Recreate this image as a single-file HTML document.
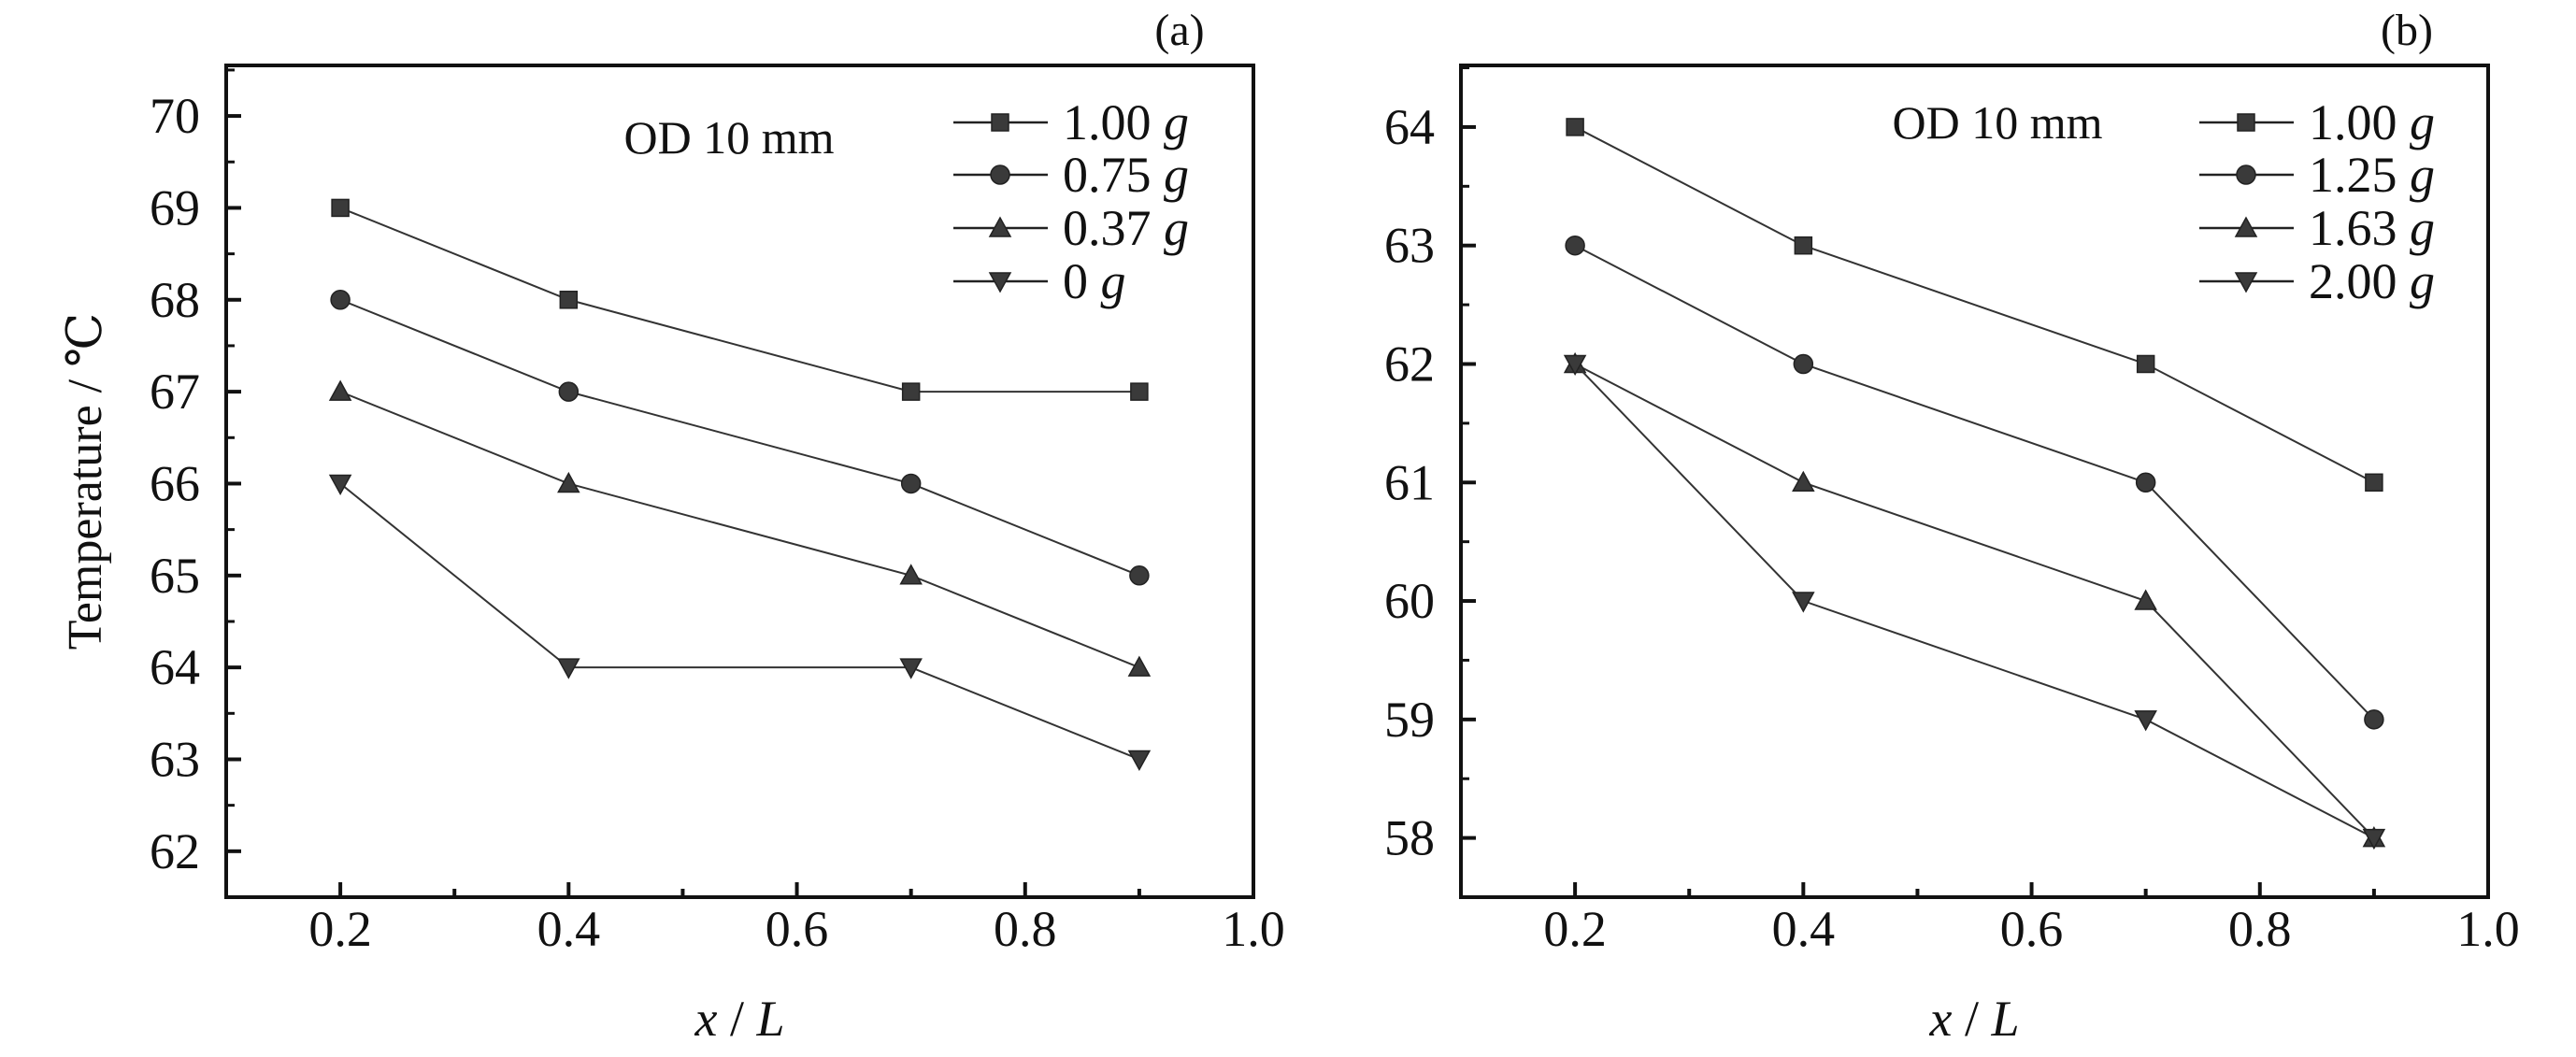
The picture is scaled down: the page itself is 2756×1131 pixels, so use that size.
<!DOCTYPE html>
<html><head><meta charset="utf-8"><style>
html,body{margin:0;padding:0;background:#fff;}
svg, svg text{font-family:"Liberation Serif","Times New Roman","Nimbus Roman","DejaVu Serif",serif !important;}
</style></head><body>
<svg id="chart" width="2756" height="1126" viewBox="0 0 2756 1126" xmlns="http://www.w3.org/2000/svg"></svg>
<script>
const xValues = [0.2, 0.4, 0.7, 0.9];
const xTicks = ["0.2","0.4","0.6","0.8","1.0"];
const aLabels = ["1.00","0.75","0.37","0"];
const aSeries1 = [69, 68, 67, 67];
const aSeries2 = [68, 67, 66, 65];
const aSeries3 = [67, 66, 65, 64];
const aSeries4 = [66, 64, 64, 63];
const aYTicks = [62,63,64,65,66,67,68,69,70];
const bLabels = ["1.00","1.25","1.63","2.00"];
const bSeries1 = [64, 63, 62, 61];
const bSeries2 = [63, 62, 61, 59];
const bSeries3 = [62, 61, 60, 58];
const bSeries4 = [62, 60, 59, 58];
const bYTicks = [58,59,60,61,62,63,64];
const markers = ["square","circle","up","down"];

const NS = "http://www.w3.org/2000/svg";
const svg = document.getElementById("chart");
function mk(tag, attrs, parent){const e=document.createElementNS(NS,tag);for(const k in attrs)e.setAttribute(k,attrs[k]);(parent||svg).appendChild(e);return e;}

function marker(g, type, cx, cy){
  const s=9, st={fill:"#3a3a3a",stroke:"#222","stroke-width":1.5};
  let e;
  if(type==="square") e=mk("rect",Object.assign({x:cx-s,y:cy-s,width:2*s,height:2*s},st),g);
  else if(type==="circle") e=mk("circle",Object.assign({cx:cx,cy:cy,r:s+1},st),g);
  else if(type==="up") e=mk("polygon",Object.assign({points:`${cx},${cy-s-2} ${cx-s-2},${cy+s} ${cx+s+2},${cy+s}`},st),g);
  else e=mk("polygon",Object.assign({points:`${cx-s-2},${cy-s} ${cx+s+2},${cy-s} ${cx},${cy+s+2}`},st),g);
  
  
}

function panel(opt){
  const {L,R,T,B,ymin,ymax,yTicks,series,labels,tag,tagX,odX,odY,legX,name}=opt;
  const g=mk("g",{});
  
  
  const xs=v=>L+(v-0.1)/(0.9)*(R-L);
  const ys=v=>B-(v-ymin)/(ymax-ymin)*(B-T);
  xTicks.forEach((t,i)=>{
    const v=parseFloat(t), x=xs(v);
    mk("line",{x1:x,y1:B,x2:x,y2:B-16,stroke:"#111","stroke-width":4},g);
    const tx=mk("text",{x:x,y:1012,"font-size":54,"text-anchor":"middle",fill:"#111"},g);
    tx.textContent=t;
    
    
    const m=xs(v-0.1);
    if(v-0.1>0.1) mk("line",{x1:m,y1:B,x2:m,y2:B-9,stroke:"#111","stroke-width":4},g);
  });
  yTicks.forEach(t=>{
    const y=ys(t);
    mk("line",{x1:L,y1:y,x2:L+16,y2:y,stroke:"#111","stroke-width":4},g);
    const m=ys(t+0.5);
    if(t+0.5<ymax) mk("line",{x1:L,y1:m,x2:L+9,y2:m,stroke:"#111","stroke-width":3},g);
    const tx=mk("text",{x:L-28,y:y+18,"font-size":54,"text-anchor":"end",fill:"#111"},g);
    tx.textContent=t;
    
    
  });
  const fr=mk("rect",{x:L,y:T,width:R-L,height:B-T,fill:"none",stroke:"#111","stroke-width":4},g);
  
  
  series.forEach((s,i)=>{
    const sg=mk("g",{},g);
    
    
    const pts=s.map((v,j)=>xs(xValues[j])+","+ys(v)).join(" ");
    mk("polyline",{points:pts,fill:"none",stroke:"#333","stroke-width":2},sg);
    s.forEach((v,j)=>marker(sg,markers[i],xs(xValues[j]),ys(v)));
  });
  const rows=[131,187,244,301];
  labels.forEach((lb,i)=>{
    const lg=mk("g",{},g);
    
    
    mk("line",{x1:legX,y1:rows[i],x2:legX+101,y2:rows[i],stroke:"#222","stroke-width":2.5},lg);
    marker(lg,markers[i],legX+50,rows[i]);
    const t=mk("text",{x:legX+117,y:rows[i]+18,"font-size":54,fill:"#111"},lg);
    t.innerHTML=lb+' <tspan font-style="italic">g</tspan>';
  });
  const od=mk("text",{x:odX,y:odY,"font-size":50,"text-anchor":"middle",fill:"#111"},g);
  od.textContent="OD 10 mm";
  
  
  const tg=mk("text",{x:tagX,y:48,"font-size":48,"text-anchor":"middle",fill:"#111"},g);
  tg.textContent=tag;
  
  
  const xt=mk("text",{x:(L+R)/2,y:1108,"font-size":54,"text-anchor":"middle",fill:"#111"},g);
  xt.innerHTML='<tspan font-style="italic">x</tspan> / <tspan font-style="italic">L</tspan>';
  
  
}

panel({L:242,R:1341,T:70,B:960,ymin:61.5,ymax:70.55,yTicks:aYTicks,
  series:[aSeries1,aSeries2,aSeries3,aSeries4],labels:aLabels,tag:"(a)",tagX:1262,
  odX:780,odY:164,legX:1020,name:"panel-a"});
panel({L:1563,R:2662,T:70,B:960,ymin:57.5,ymax:64.52,yTicks:bYTicks,
  series:[bSeries1,bSeries2,bSeries3,bSeries4],labels:bLabels,tag:"(b)",tagX:2575,
  odX:2137,odY:148,legX:2353,name:"panel-b"});

const yt=mk("text",{x:0,y:0,"font-size":52,"text-anchor":"middle",fill:"#111",transform:"translate(108,515) rotate(-90)"});
yt.textContent="Temperature / ℃";


</script>
</body></html>
